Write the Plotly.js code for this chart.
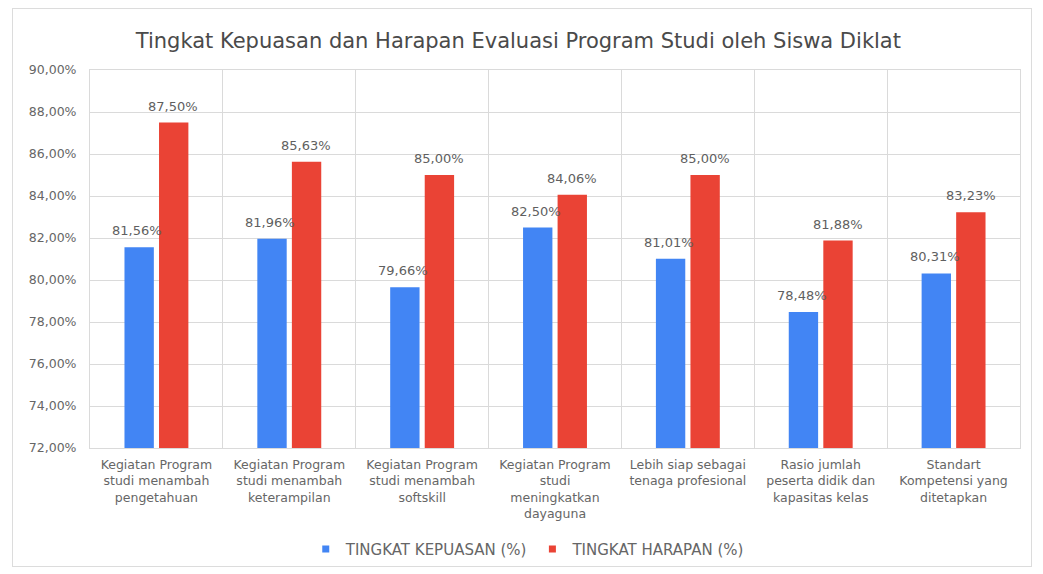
<!DOCTYPE html>
<html>
<head>
<meta charset="utf-8">
<script src="https://cdn.plot.ly/plotly-3.0.1.min.js"></script>
<style>
html,body{margin:0;padding:0;background:#fff;}
#frame{position:absolute;left:12px;top:8px;width:1018px;height:557px;border:1px solid #dcdcdc;}
#chart{position:absolute;left:0;top:0;width:1043px;height:574px;}
</style>
</head>
<body>
<div id="frame"></div>
<div id="chart"></div>
<script>
const categories = [
  "Kegiatan Program<br>studi menambah<br>pengetahuan",
  "Kegiatan Program<br>studi menambah<br>keterampilan",
  "Kegiatan Program<br>studi menambah<br>softskill",
  "Kegiatan Program<br>studi<br>meningkatkan<br>dayaguna",
  "Lebih siap sebagai<br>tenaga profesional",
  "Rasio jumlah<br>peserta didik dan<br>kapasitas kelas",
  "Standart<br>Kompetensi yang<br>ditetapkan"
];
const kepuasan = [81.56, 81.96, 79.66, 82.50, 81.01, 78.48, 80.31];
const harapan = [87.50, 85.63, 85.00, 84.06, 85.00, 81.88, 83.23];
const yTickVals = [72, 74, 76, 78, 80, 82, 84, 86, 88, 90];
const yTickText = ["72,00%", "74,00%", "76,00%", "78,00%", "80,00%", "82,00%", "84,00%", "86,00%", "88,00%", "90,00%"];
const seriesNames = ["TINGKAT KEPUASAN (%)", "TINGKAT HARAPAN (%)"];
const titleText = "Tingkat Kepuasan dan Harapan Evaluasi Program Studi oleh Siswa Diklat";

const fmt = v => v.toFixed(2).replace('.', ',') + '%';
const font = "'DejaVu Sans', Verdana, sans-serif";
const colors = ['#4285F4', '#EA4335'];

const traces = [
  {type: 'bar', x: categories, y: kepuasan, name: seriesNames[0], marker: {color: colors[0]}, showlegend: false},
  {type: 'bar', x: categories, y: harapan, name: seriesNames[1], marker: {color: colors[1]}, showlegend: false},
  {type: 'scatter', mode: 'markers', x: [null], y: [null], name: seriesNames[0],
   marker: {color: colors[0], symbol: 'square', size: 7}},
  {type: 'scatter', mode: 'markers', x: [null], y: [null], name: seriesNames[1],
   marker: {color: colors[1], symbol: 'square', size: 7}}
];

const annotations = [];
[kepuasan, harapan].forEach((vals, s) => {
  vals.forEach((v, i) => {
    annotations.push({
      x: i, y: v, xref: 'x', yref: 'y', text: fmt(v), showarrow: false,
      xanchor: 'center', yanchor: 'bottom', xshift: s === 0 ? -19 : 17, yshift: 7,
      font: {size: 13, color: '#5f5f5f', family: font}
    });
  });
});

const layout = {
  width: 1043, height: 574,
  paper_bgcolor: 'rgba(0,0,0,0)', plot_bgcolor: '#fff',
  margin: {l: 90, r: 23, t: 70, b: 126},
  font: {family: font, color: '#666', size: 12},
  title: {text: titleText, x: 0.497, xanchor: 'center', y: 0.93, yanchor: 'middle',
          font: {size: 21, color: '#4a4a4a', family: font}},
  barmode: 'group', bargap: 0.48, bargroupgap: 0.15,
  xaxis: {type: 'category', tickson: 'boundaries', showgrid: true, gridcolor: '#dadada',
          showline: true, linecolor: '#dadada', mirror: true, ticks: '', automargin: false,
          ticklabelstandoff: 5, tickfont: {size: 12.5, color: '#666', family: font}},
  yaxis: {range: [72, 90], tickvals: yTickVals, ticktext: yTickText, showgrid: true,
          gridcolor: '#dadada', zeroline: false, showline: true, linecolor: '#dadada', mirror: true,
          ticks: '', automargin: false, ticklabelstandoff: 10,
          tickfont: {size: 12.5, color: '#666', family: font}},
  annotations: annotations,
  legend: {orientation: 'h', x: 0.232, xanchor: 'left', yref: 'container', y: 0.043, yanchor: 'middle',
           font: {size: 15, color: '#666', family: font}, itemwidth: 30, traceorder: 'normal'},
  showlegend: true
};

Plotly.newPlot('chart', traces, layout, {displayModeBar: false, staticPlot: true});
</script>
</body>
</html>
